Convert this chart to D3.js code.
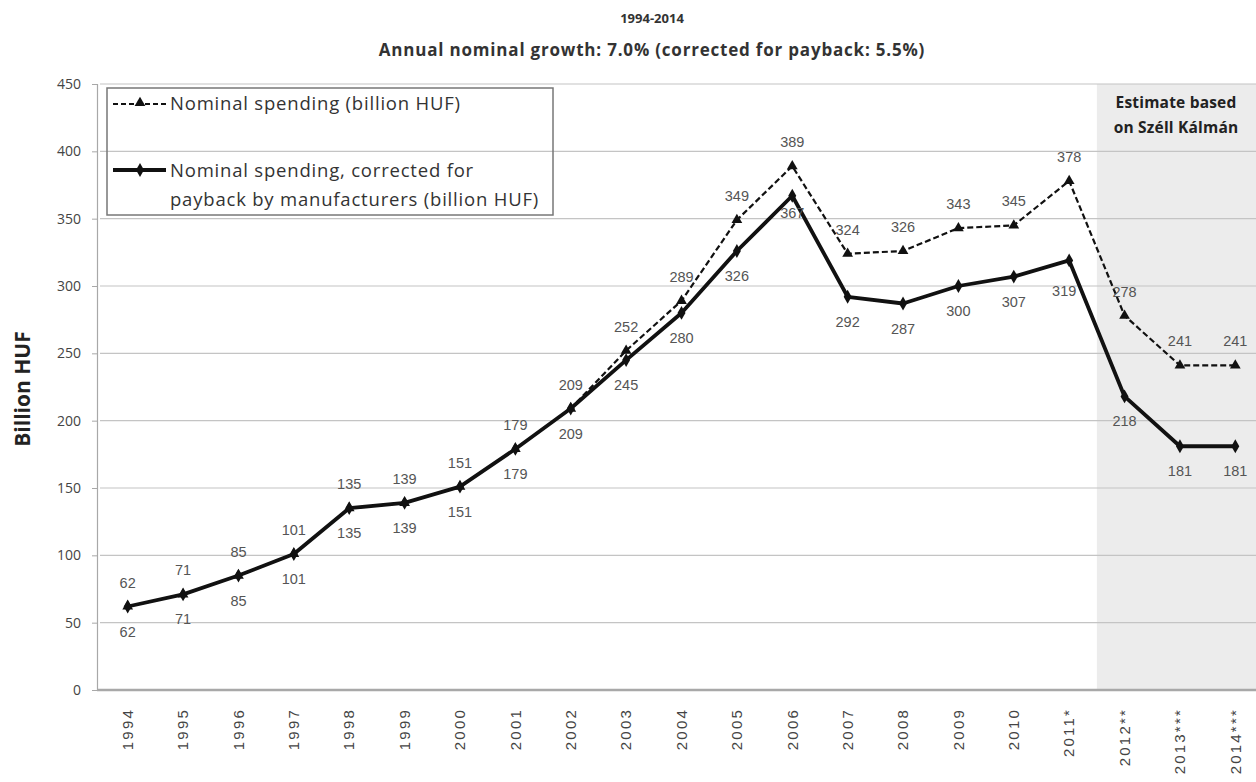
<!DOCTYPE html>
<html>
<head>
<meta charset="utf-8">
<script src="https://cdn.jsdelivr.net/npm/d3@7"></script>
<style>
  html, body { margin: 0; padding: 0; background: #fff; }
  svg { display: block; font-family: "Open Sans", "DejaVu Sans", sans-serif; }
</style>
</head>
<body>
<svg id="chart" width="1256" height="782"></svg>
<script>
// Years on the category axis
const years = ["1994","1995","1996","1997","1998","1999","2000","2001","2002","2003","2004",
  "2005","2006","2007","2008","2009","2010","2011*","2012**","2013***","2014***"];
// Nominal spending (billion HUF)
const nominal = [62,71,85,101,135,139,151,179,209,252,289,349,389,324,326,343,345,378,278,241,241];
// Nominal spending corrected for payback by manufacturers (billion HUF)
const corrected = [62,71,85,101,135,139,151,179,209,245,280,326,367,292,287,300,307,319,218,181,181];
// Value axis ticks
const yTicks = [0,50,100,150,200,250,300,350,400,450];
// Years covered by the estimate
const estimateYears = ["2012**","2013***","2014***"];

const svg = d3.select("#chart");
const plotL = 100, plotR = 1263, plotT = 84, plotB = 690;

const x = d3.scaleBand().domain(years).range([plotL, plotR]).padding(0);
const y = d3.scaleLinear().domain([0, 450]).range([plotB, plotT]);
const cx = d => x(d) + x.bandwidth() / 2;

// Shaded estimate area
const estStart = x(estimateYears[0]);
svg.append("rect")
  .attr("x", estStart).attr("y", plotT)
  .attr("width", 1256 - estStart).attr("height", plotB - plotT)
  .attr("fill", "#ececec");

// Horizontal gridlines
svg.append("g").selectAll("line").data(yTicks.filter(t => t > 0)).join("line")
  .attr("x1", plotL).attr("x2", 1256)
  .attr("y1", d => y(d)).attr("y2", d => y(d))
  .attr("stroke", "#c4c4c4").attr("stroke-width", 1.2);

// Y axis
const yAxis = svg.append("g").attr("transform", `translate(${plotL - 3},0)`)
  .call(d3.axisLeft(y).tickValues(yTicks).tickSize(5).tickPadding(11));
yAxis.select(".domain").attr("stroke", "#a8a8a8").attr("stroke-width", 1.2);
yAxis.selectAll(".tick line").attr("stroke", "#a8a8a8");
yAxis.selectAll("text").attr("fill", "#444").attr("font-size", 14)
  .attr("font-family", "'Open Sans', sans-serif");

// X axis
const xAxis = svg.append("g").attr("transform", `translate(0,${plotB})`)
  .call(d3.axisBottom(x).tickSize(0).tickPadding(0));
xAxis.select(".domain").attr("stroke", "#a8a8a8").attr("stroke-width", 2.5)
  .attr("d", `M${plotL - 3},0H1256`);
xAxis.selectAll("text")
  .attr("transform", "rotate(-90)")
  .attr("text-anchor", "end")
  .attr("x", -18).attr("y", 0).attr("dy", "0.35em")
  .attr("fill", "#444").attr("font-size", 15).attr("letter-spacing", 2.2)
  .attr("font-family", "'Liberation Sans', Arial, sans-serif");

// Lines
const line = d3.line().x((d, i) => cx(years[i])).y(d => y(d));

svg.append("path").datum(nominal)
  .attr("d", line).attr("fill", "none")
  .attr("stroke", "#111").attr("stroke-width", 2.2)
  .attr("stroke-dasharray", "6,3");

svg.append("path").datum(corrected)
  .attr("d", line).attr("fill", "none")
  .attr("stroke", "#111").attr("stroke-width", 3.8)
  .attr("stroke-linejoin", "round");

// Markers
const tri = d3.symbol().type(d3.symbolTriangle).size(50);
const dia = d3.symbol().type(d3.symbolDiamond).size(55);

svg.append("g").selectAll("path").data(nominal).join("path")
  .attr("d", tri)
  .attr("transform", (d, i) => `translate(${cx(years[i])},${y(d)})`)
  .attr("fill", "#111");

svg.append("g").selectAll("path").data(corrected).join("path")
  .attr("d", dia)
  .attr("transform", (d, i) => `translate(${cx(years[i])},${y(d)})`)
  .attr("fill", "#111");

// Value labels: nominal above its point, corrected below
const labelFont = "'Liberation Sans', Arial, sans-serif";
svg.append("g").selectAll("text").data(nominal).join("text")
  .attr("x", (d, i) => cx(years[i]))
  .attr("y", d => y(d) - 19)
  .attr("text-anchor", "middle")
  .attr("font-family", labelFont)
  .attr("font-size", 14.5).attr("fill", "#555")
  .text(d => d);

// The 2006 peak label sits tight under the line; the 2011 one is pushed lower
const belowShift = yr => yr === "2006" ? -8 : yr === "2011*" ? 6 : 0;
svg.append("g").selectAll("text").data(corrected).join("text")
  .attr("x", (d, i) => cx(years[i]) - (years[i] === "2011*" ? 5 : 0))
  .attr("y", (d, i) => y(d) + 30 + belowShift(years[i]))
  .attr("text-anchor", "middle")
  .attr("font-family", labelFont)
  .attr("font-size", 14.5).attr("fill", "#555")
  .text(d => d);

// Title
svg.append("text").attr("x", 652).attr("y", 23).attr("text-anchor", "middle")
  .attr("font-size", 13).attr("font-weight", "bold").attr("fill", "#333")
  .text("1994-2014");
svg.append("text").attr("x", 652).attr("y", 56).attr("text-anchor", "middle")
  .attr("font-size", 17).attr("font-weight", "bold").attr("fill", "#333")
  .attr("letter-spacing", 0.8)
  .text("Annual nominal growth: 7.0% (corrected for payback: 5.5%)");

// Y axis title
svg.append("text")
  .attr("transform", "translate(30,389) rotate(-90)")
  .attr("text-anchor", "middle")
  .attr("font-size", 21).attr("font-weight", "bold").attr("fill", "#222")
  .text("Billion HUF");

// Estimate note
const note = svg.append("text").attr("text-anchor", "middle")
  .attr("font-size", 15.5).attr("font-weight", "bold").attr("fill", "#222")
  .attr("letter-spacing", 0.2);
note.append("tspan").attr("x", 1176).attr("y", 108).text("Estimate based");
note.append("tspan").attr("x", 1176).attr("y", 133).text("on Széll Kálmán");

// Legend
const lg = svg.append("g");
lg.append("rect").attr("x", 107).attr("y", 88).attr("width", 446).attr("height", 127)
  .attr("fill", "none").attr("stroke", "#777").attr("stroke-width", 1.5);
lg.append("line").attr("x1", 113).attr("x2", 166).attr("y1", 104).attr("y2", 104)
  .attr("stroke", "#111").attr("stroke-width", 1.8).attr("stroke-dasharray", "5,3");
lg.append("path").attr("d", tri).attr("transform", "translate(140,103)").attr("fill", "#111");
lg.append("line").attr("x1", 113).attr("x2", 166).attr("y1", 170).attr("y2", 170)
  .attr("stroke", "#111").attr("stroke-width", 3.8);
lg.append("path").attr("d", dia).attr("transform", "translate(140,170)").attr("fill", "#111");
const lt = lg.append("g").attr("font-size", 18.5).attr("fill", "#333").attr("letter-spacing", 0.8);
lt.append("text").attr("x", 170).attr("y", 110).text("Nominal spending (billion HUF)");
lt.append("text").attr("x", 170).attr("y", 177).text("Nominal spending, corrected  for");
lt.append("text").attr("x", 170).attr("y", 206).text("payback by manufacturers (billion HUF)");
</script>
</body>
</html>
